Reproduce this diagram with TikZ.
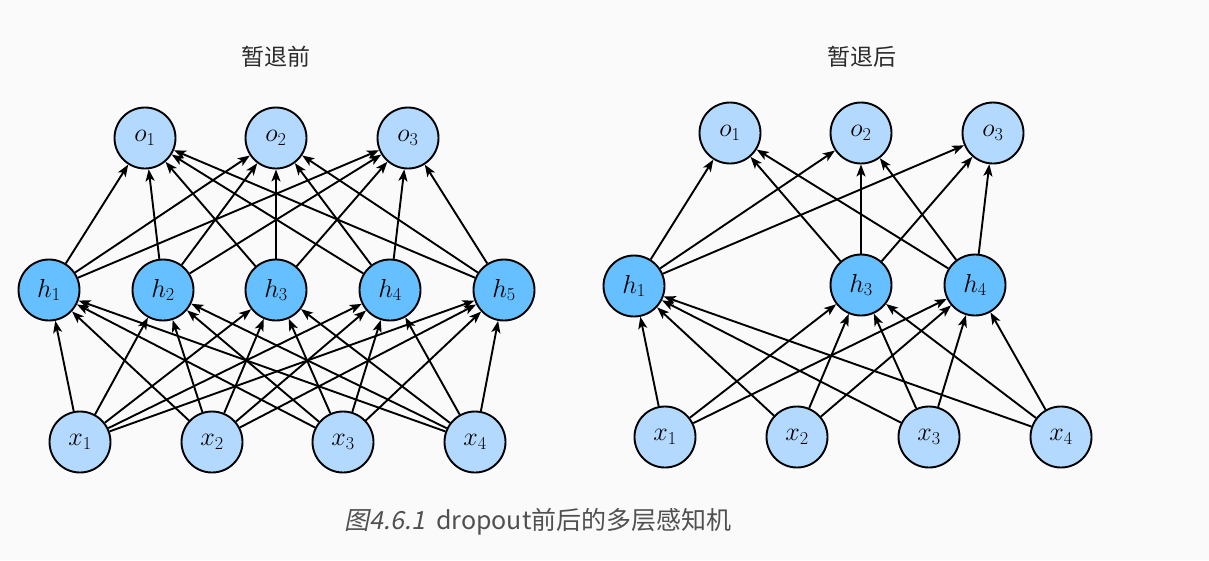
\RequirePackage{fix-cm}
\documentclass[tikz,border=0pt]{standalone}
\usepackage{fontspec}
\usepackage{tikz}
\usetikzlibrary{arrows.meta}
\newfontfamily\cjk{Noto Sans CJK SC}
\newfontfamily\cjkslant{Noto Sans CJK SC}[FakeSlant=0.2]
\definecolor{inputblue}{HTML}{B3D9FF}
\definecolor{hiddenblue}{HTML}{66BFFF}
\definecolor{paper}{HTML}{FAFAFA}
\definecolor{titlegray}{HTML}{2B2B2B}
\definecolor{captiongray}{HTML}{505050}
\tikzset{
    unit/.style={
        circle, draw=black, line width=1.9pt, fill=#1,
        minimum size=61pt, inner sep=0pt,
        font=\fontsize{26}{26}\selectfont
    },
    unit/.default=inputblue,
    wire/.style={
        line width=1.9pt,
        -{Stealth[length=12pt,width=9pt,inset=3pt]}
    }
}
\newcommand{\unitNode}[5] {
	\node[unit=#5] (#1) at (#2,#3) {$#4$};
}
\newcommand{\fanIn}[2] {
	\foreach \src in {#2} { \draw[wire] (\src) -- (#1); }
}
\begin{document}
\begin{tikzpicture}[x=1pt,y=-1pt]
		\fill[paper] (0,0) rectangle (1209,560);
		\useasboundingbox (0,0) rectangle (1209,560);

		% full network
		\node[font=\cjk\fontsize{23}{23}\selectfont, text=titlegray] (ftitle) at (276,57) {暂退前};

		\unitNode{fo1}{145}{138}{o_1}{inputblue}
		\unitNode{fo2}{276}{138}{o_2}{inputblue}
		\unitNode{fo3}{408}{138}{o_3}{inputblue}

		\unitNode{fh1}{49}{290}{h_1}{hiddenblue}
		\unitNode{fh2}{163}{290}{h_2}{hiddenblue}
		\unitNode{fh3}{276}{290}{h_3}{hiddenblue}
		\unitNode{fh4}{390}{290}{h_4}{hiddenblue}
		\unitNode{fh5}{504}{290}{h_5}{hiddenblue}

		\unitNode{fx1}{80}{442}{x_1}{inputblue}
		\unitNode{fx2}{212}{442}{x_2}{inputblue}
		\unitNode{fx3}{343}{442}{x_3}{inputblue}
		\unitNode{fx4}{475}{442}{x_4}{inputblue}

		\fanIn{fh1}{fx1,fx2,fx3,fx4}
		\fanIn{fh2}{fx1,fx2,fx3,fx4}
		\fanIn{fh3}{fx1,fx2,fx3,fx4}
		\fanIn{fh4}{fx1,fx2,fx3,fx4}
		\fanIn{fh5}{fx1,fx2,fx3,fx4}

		\fanIn{fo1}{fh1,fh2,fh3,fh4,fh5}
		\fanIn{fo2}{fh1,fh2,fh3,fh4,fh5}
		\fanIn{fo3}{fh1,fh2,fh3,fh4,fh5}

		% dropout network (h2, h5 removed)
		\node[font=\cjk\fontsize{23}{23}\selectfont, text=titlegray] (dtitle) at (862,57) {暂退后};

		\unitNode{do1}{730}{133}{o_1}{inputblue}
		\unitNode{do2}{861}{133}{o_2}{inputblue}
		\unitNode{do3}{993}{133}{o_3}{inputblue}

		\unitNode{dh1}{634}{286}{h_1}{hiddenblue}
		\unitNode{dh3}{861}{285}{h_3}{hiddenblue}
		\unitNode{dh4}{975}{285}{h_4}{hiddenblue}

		\unitNode{dx1}{665}{437}{x_1}{inputblue}
		\unitNode{dx2}{797}{437}{x_2}{inputblue}
		\unitNode{dx3}{929}{437}{x_3}{inputblue}
		\unitNode{dx4}{1061}{437}{x_4}{inputblue}

		\fanIn{dh1}{dx1,dx2,dx3,dx4}
		\fanIn{dh3}{dx1,dx2,dx3,dx4}
		\fanIn{dh4}{dx1,dx2,dx3,dx4}

		\fanIn{do1}{dh1,dh3,dh4}
		\fanIn{do2}{dh1,dh3,dh4}
		\fanIn{do3}{dh1,dh3,dh4}

		% caption
		\node[font=\cjk\fontsize{25}{25}\selectfont, text=captiongray] (caption) at (538,522) {{\cjkslant 图4.6.1}\ \ dropout前后的多层感知机};
	\end{tikzpicture}
\end{document}
